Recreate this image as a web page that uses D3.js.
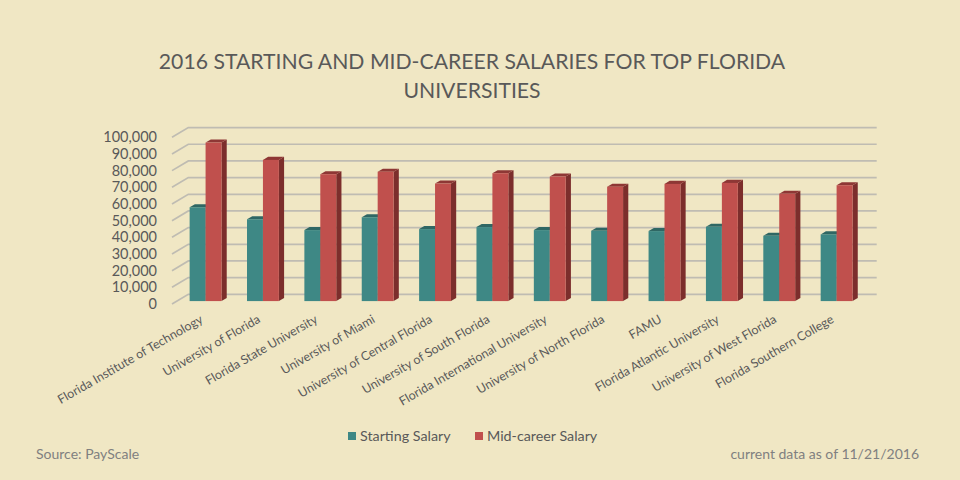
<!DOCTYPE html>
<html><head><meta charset="utf-8">
<script src="https://cdn.jsdelivr.net/npm/d3@7"></script>
<style>
html,body{margin:0;padding:0;background:#F0E7C4;}
svg{display:block;}
text{font-family:Lato,"Open Sans",sans-serif;}
</style></head>
<body>
<svg id="c" width="960" height="480"></svg>
<script>
const categories = ["Florida Institute of Technology","University of Florida","Florida State University","University of Miami","University of Central Florida","University of South Florida","Florida International University","University of North Florida","FAMU","Florida Atlantic University","University of West Florida","Florida Southern College"];
const startingSalary = [56300,49100,42600,50300,43200,44400,42600,42200,42000,44600,39200,40000];
const midCareerSalary = [95100,84700,76100,77600,70500,76700,74700,68600,70300,70900,64400,69500];
const yTicks = [0,10000,20000,30000,40000,50000,60000,70000,80000,90000,100000];
const seriesNames = ["Starting Salary","Mid-career Salary"];
const titleLines = ["2016 STARTING AND MID-CAREER SALARIES FOR TOP FLORIDA","UNIVERSITIES"];

const svg = d3.select("#c");
svg.append("rect").attr("width",960).attr("height",480).attr("fill","#F0E7C4");

const X0 = 172, X1 = 860.4, DX = 16.3, DY = 9.7;
const y = d3.scaleLinear().domain([0,100000]).range([304,137.3]);
const x = d3.scaleBand().domain(categories).range([X0,X1]);
const inner = d3.scaleBand().domain(seriesNames).range([0, x.bandwidth()]).paddingOuter(0.8).paddingInner(0);

const fF = 0.30, fB = 0.62;
const colors = {front:["#3E8885","#C0504D"], top:["#2F6764","#8E3735"], side:["#2A5C5A","#7C2E2C"]};

// gridlines
const g = svg.append("g");
yTicks.forEach(t=>{
  const yy = y(t);
  g.append("path").attr("d",`M${X0},${yy}L${X0+DX},${yy-DY}L${X1+DX},${yy-DY}`)
   .attr("fill","none").attr("stroke","#BFBCB2").attr("stroke-width",1.7);
});

// y labels
svg.append("g").selectAll("text").data(yTicks).join("text")
  .attr("x",157).attr("y",d=>y(d)).attr("dy","0.35em")
  .attr("text-anchor","end").attr("fill","#595959").attr("font-size",14.5)
  .text(d=>d3.format(",")(d));

// bars
const bx = fF*DX, by = fF*DY, ddx=(fB-fF)*DX, ddy=(fB-fF)*DY;
const series = [startingSalary, midCareerSalary];
const bars = svg.append("g");
categories.forEach((c,i)=>{
  series.forEach((vals,s)=>{
    const v = vals[i];
    const xl = x(c) + inner(seriesNames[s]) + bx;
    const w = inner.bandwidth();
    const yt = y(v) - by, yb = y(0) - by;
    bars.append("path").attr("fill",colors.side[s])
      .attr("d",`M${xl+w},${yt}L${xl+w+ddx},${yt-ddy}L${xl+w+ddx},${yb-ddy}L${xl+w},${yb}Z`);
    bars.append("path").attr("fill",colors.top[s])
      .attr("d",`M${xl},${yt}L${xl+ddx},${yt-ddy}L${xl+w+ddx},${yt-ddy}L${xl+w},${yt}Z`);
    bars.append("rect").attr("x",xl).attr("y",yt).attr("width",w).attr("height",yb-yt).attr("fill",colors.front[s]);
  });
});

// category labels
svg.append("g").selectAll("text").data(categories).join("text")
  .attr("transform",d=>`translate(${x(d)+x.bandwidth()/2+bx-4},${318}) rotate(-30)`)
  .attr("text-anchor","end").attr("dy","0.35em")
  .attr("fill","#595959").attr("font-size",12.4)
  .text(d=>d);

// title
svg.append("g").selectAll("text").data(titleLines).join("text")
  .attr("x",472).attr("y",(d,i)=>62+i*29).attr("dy","0.35em")
  .attr("text-anchor","middle").attr("fill","#595959").attr("font-size",21.2)
  .text(d=>d);

// legend
const leg = svg.append("g");
const legX = [348,475];
seriesNames.forEach((n,i)=>{
  leg.append("rect").attr("x",legX[i]).attr("y",432).attr("width",8).attr("height",8).attr("fill",colors.front[i]);
  leg.append("text").attr("x",legX[i]+12).attr("y",436).attr("dy","0.35em")
    .attr("fill","#595959").attr("font-size",14.3).text(n);
});

svg.append("text").attr("x",36).attr("y",454).attr("dy","0.35em")
  .attr("fill","#808080").attr("font-size",14).text("Source: PayScale");
svg.append("text").attr("x",919).attr("y",454).attr("dy","0.35em").attr("text-anchor","end")
  .attr("fill","#808080").attr("font-size",14).text("current data as of 11/21/2016");
</script>
</body></html>
